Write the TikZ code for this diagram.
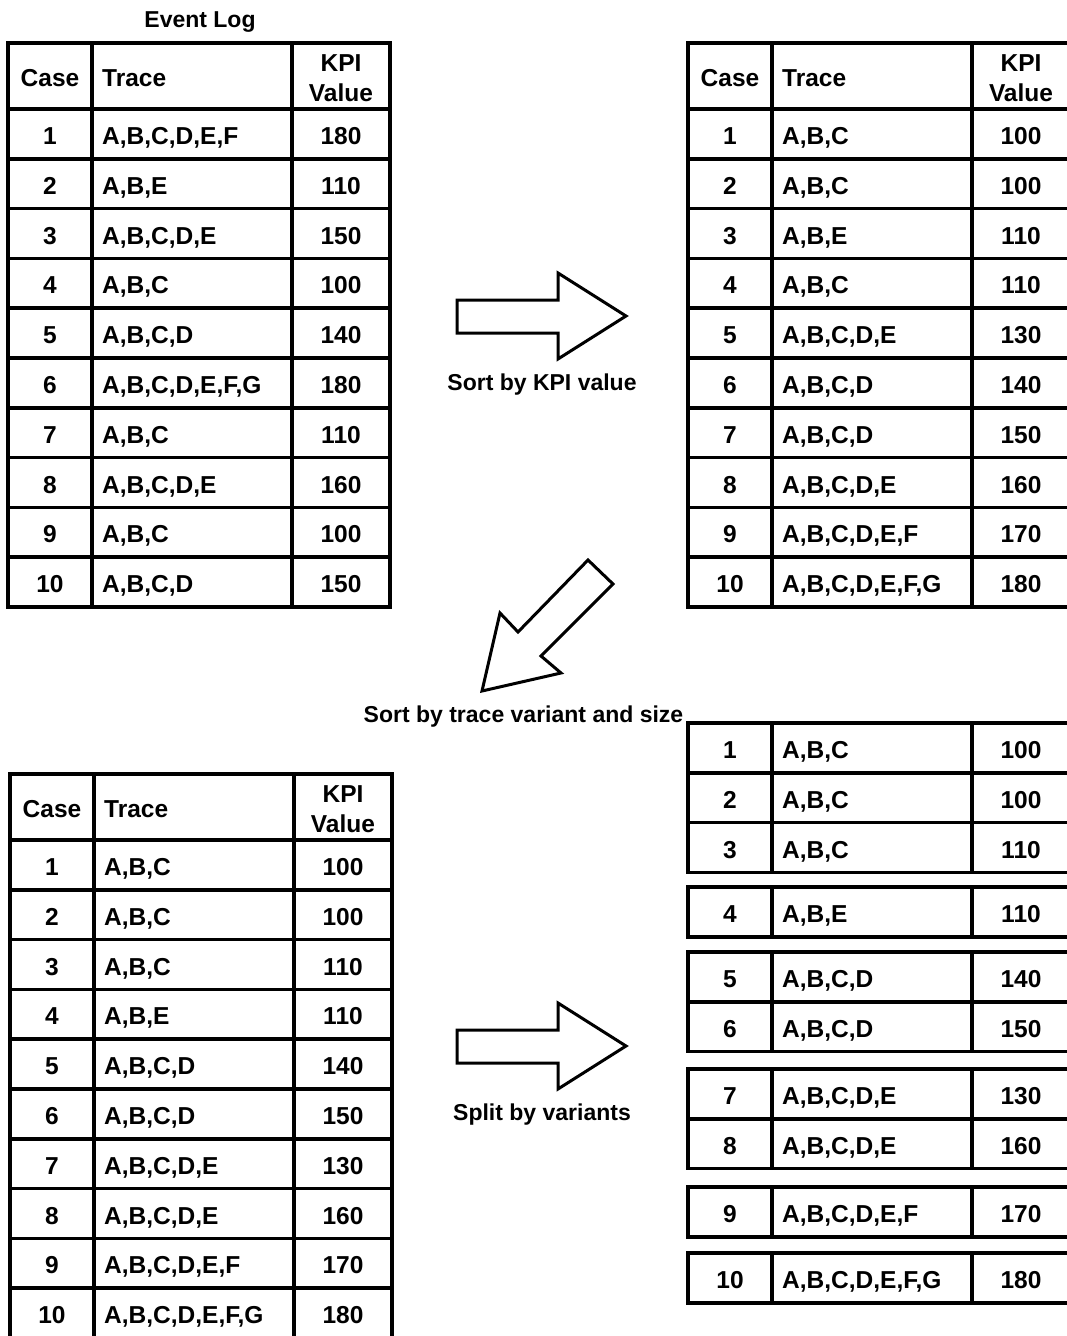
\documentclass[tikz,border=0pt]{standalone}
\usepackage{fontspec}
\setmainfont{Liberation Sans}

% text sizes for table cells and captions
\newcommand\cellsize{\fontsize{24.5}{28}\selectfont\bfseries}
\newcommand\capsize{\fontsize{23}{27}\selectfont\bfseries}

\tikzset{
  rule/.style={line width=3.5pt, line join=miter},
  cell/.style={font=\cellsize, inner sep=0pt, anchor=base},
  tracecell/.style={cell, anchor=base west},
  caption/.style={font=\capsize, inner sep=0pt, anchor=base},
  blockarrow/.style={draw, line width=3pt, line join=miter, fill=white},
}

% header row: name, left x, top y
\newcommand\headrow[3]{%
  \draw[rule] (#2,#3) rectangle (#2+382,#3+66);
  \draw[rule] (#2+84,#3) -- ++(0,66) (#2+284,#3) -- ++(0,66);
  \node[cell] (#1-case) at (#2+42,#3+43) {Case};
  \node[tracecell] (#1-trace) at (#2+94,#3+43) {Trace};
  \node[cell] (#1-kpi) at (#2+333,#3+28) {KPI};
  \node[cell] (#1-value) at (#2+333,#3+58) {Value};
}
% data row: name, left x, top y, case, trace, KPI value
\newcommand\caserow[6]{%
  \draw[rule] (#2,#3) rectangle (#2+382,#3+49.8);
  \draw[rule] (#2+84,#3) -- ++(0,49.8) (#2+284,#3) -- ++(0,49.8);
  \node[cell] (#1-case) at (#2+42,#3+35.5) {#4};
  \node[tracecell] (#1-trace) at (#2+94,#3+35.5) {#5};
  \node[cell] (#1-kpi) at (#2+333,#3+35.5) {#6};
}

\begin{document}
\begin{tikzpicture}[x=1pt, y=-1pt]
\fill[white] (0,0) rectangle (1066,1336);
\useasboundingbox (0,0) rectangle (1066,1336);

% ---- event log ----
\node[caption] (title) at (200,27) {Event Log};
\headrow{log}{8}{43}
\caserow{log1}{8}{109+0*49.8}{1}{A,B,C,D,E,F}{180}
\caserow{log2}{8}{109+1*49.8}{2}{A,B,E}{110}
\caserow{log3}{8}{109+2*49.8}{3}{A,B,C,D,E}{150}
\caserow{log4}{8}{109+3*49.8}{4}{A,B,C}{100}
\caserow{log5}{8}{109+4*49.8}{5}{A,B,C,D}{140}
\caserow{log6}{8}{109+5*49.8}{6}{A,B,C,D,E,F,G}{180}
\caserow{log7}{8}{109+6*49.8}{7}{A,B,C}{110}
\caserow{log8}{8}{109+7*49.8}{8}{A,B,C,D,E}{160}
\caserow{log9}{8}{109+8*49.8}{9}{A,B,C}{100}
\caserow{log10}{8}{109+9*49.8}{10}{A,B,C,D}{150}

% ---- sorted by KPI value ----
\headrow{kpi}{688}{43}
\caserow{kpi1}{688}{109+0*49.8}{1}{A,B,C}{100}
\caserow{kpi2}{688}{109+1*49.8}{2}{A,B,C}{100}
\caserow{kpi3}{688}{109+2*49.8}{3}{A,B,E}{110}
\caserow{kpi4}{688}{109+3*49.8}{4}{A,B,C}{110}
\caserow{kpi5}{688}{109+4*49.8}{5}{A,B,C,D,E}{130}
\caserow{kpi6}{688}{109+5*49.8}{6}{A,B,C,D}{140}
\caserow{kpi7}{688}{109+6*49.8}{7}{A,B,C,D}{150}
\caserow{kpi8}{688}{109+7*49.8}{8}{A,B,C,D,E}{160}
\caserow{kpi9}{688}{109+8*49.8}{9}{A,B,C,D,E,F}{170}
\caserow{kpi10}{688}{109+9*49.8}{10}{A,B,C,D,E,F,G}{180}

% ---- sorted by variant and size ----
\headrow{var}{10}{774}
\caserow{var1}{10}{840+0*49.8}{1}{A,B,C}{100}
\caserow{var2}{10}{840+1*49.8}{2}{A,B,C}{100}
\caserow{var3}{10}{840+2*49.8}{3}{A,B,C}{110}
\caserow{var4}{10}{840+3*49.8}{4}{A,B,E}{110}
\caserow{var5}{10}{840+4*49.8}{5}{A,B,C,D}{140}
\caserow{var6}{10}{840+5*49.8}{6}{A,B,C,D}{150}
\caserow{var7}{10}{840+6*49.8}{7}{A,B,C,D,E}{130}
\caserow{var8}{10}{840+7*49.8}{8}{A,B,C,D,E}{160}
\caserow{var9}{10}{840+8*49.8}{9}{A,B,C,D,E,F}{170}
\caserow{var10}{10}{840+9*49.8}{10}{A,B,C,D,E,F,G}{180}

% ---- split into variant groups ----
\caserow{grp1}{688}{723}{1}{A,B,C}{100}
\caserow{grp2}{688}{723+49.8}{2}{A,B,C}{100}
\caserow{grp3}{688}{723+2*49.8}{3}{A,B,C}{110}
\caserow{grp4}{688}{887}{4}{A,B,E}{110}
\caserow{grp5}{688}{952}{5}{A,B,C,D}{140}
\caserow{grp6}{688}{952+49.8}{6}{A,B,C,D}{150}
\caserow{grp7}{688}{1069}{7}{A,B,C,D,E}{130}
\caserow{grp8}{688}{1069+49.8}{8}{A,B,C,D,E}{160}
\caserow{grp9}{688}{1187}{9}{A,B,C,D,E,F}{170}
\caserow{grp10}{688}{1253}{10}{A,B,C,D,E,F,G}{180}

% ---- block arrows and their captions ----
\draw[blockarrow] (457,300) -- (558,300) -- (558,273) -- (626,316)
  -- (558,359) -- (558,333) -- (457,333) -- cycle;
\node[caption] (sortkpi) at (542,390) {Sort by KPI value};

\draw[blockarrow] (588,560) -- (613,584) -- (541,656) -- (561,673)
  -- (482,691) -- (500,613) -- (518,632) -- cycle;
\node[caption] (sortvar) at (523.5,722) {Sort by trace variant and size};

\draw[blockarrow] (457,1030) -- (558,1030) -- (558,1003) -- (626,1046)
  -- (558,1089) -- (558,1063) -- (457,1063) -- cycle;
\node[caption] (split) at (542,1120) {Split by variants};
\end{tikzpicture}
\end{document}
